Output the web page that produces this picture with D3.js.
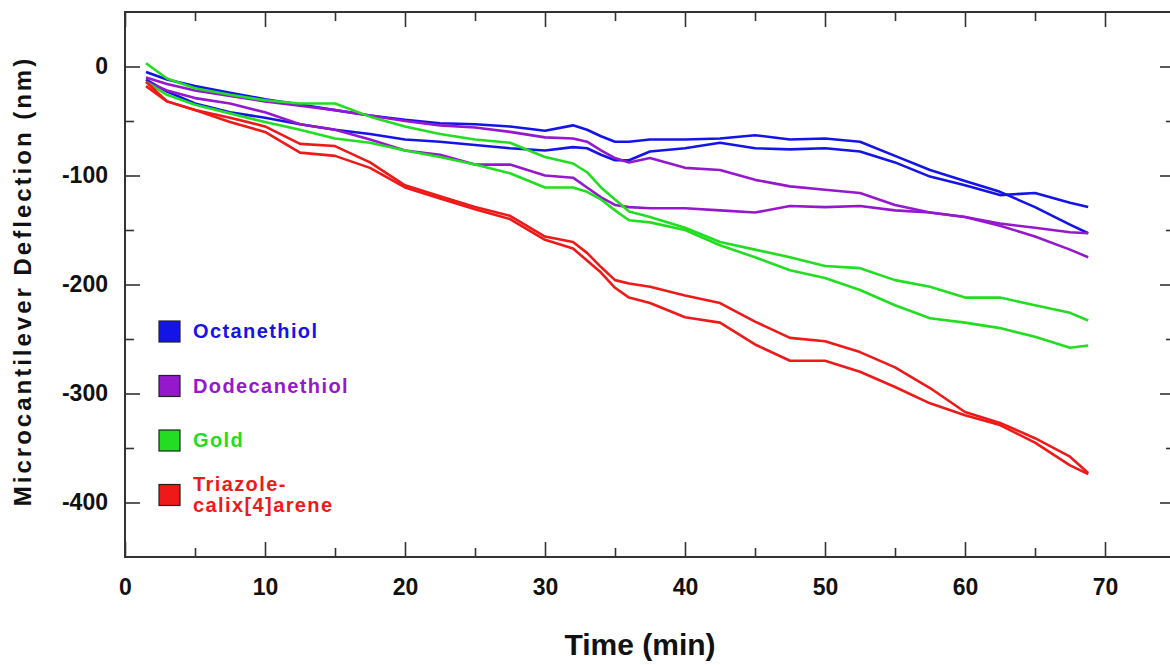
<!DOCTYPE html>
<html>
<head>
<meta charset="utf-8">
<title>Microcantilever Deflection</title>
<script src="https://cdnjs.cloudflare.com/ajax/libs/d3/7.8.5/d3.min.js"></script>
<style>
  body { margin: 0; background: #fff; }
  #chart-area text { font-family: "Liberation Sans", Arial, sans-serif; font-weight: bold; }
</style>
</head>
<body>
<div id="chart-area"></div>
<script>
// time samples (min) shared by every run
var times = [1.5, 3, 5, 7.5, 10, 12.5, 15, 17.5, 20, 22.5, 25, 27.5, 30, 32, 33, 34, 35, 36, 37.5,
  40, 42.5, 45, 47.5, 50, 52.5, 55, 57.5, 60, 62.5, 65, 67.5, 68.8];

// deflection (nm), two runs per coating
var octanethiol1 = [-5, -12, -18, -24, -30, -35, -40, -45, -49, -52, -53, -55, -59, -54, -58, -64, -69, -69, -67,
  -67, -66, -63, -67, -66, -69, -82, -95, -105, -115, -129, -145, -153];
var octanethiol2 = [-12, -23, -34, -42, -47, -53, -58, -62, -67, -69, -72, -75, -77, -74, -75, -81, -86, -86, -78,
  -75, -70, -75, -76, -75, -78, -88, -101, -109, -118, -116, -125, -129];

var dodecanethiol1 = [-10, -16, -22, -27, -32, -36, -40, -45, -50, -54, -56, -60, -65, -66, -69, -77, -84, -88, -84,
  -93, -95, -104, -110, -113, -116, -127, -134, -138, -144, -148, -152, -153];
var dodecanethiol2 = [-14, -22, -29, -34, -42, -53, -58, -67, -77, -81, -90, -90, -100, -102, -111, -120, -127, -129, -130,
  -130, -132, -134, -128, -129, -128, -132, -134, -138, -146, -156, -168, -175];

var gold1 = [3, -11, -20, -26, -31, -34, -34, -46, -55, -62, -67, -70, -83, -89, -97, -111, -122, -133, -138,
  -148, -161, -168, -175, -183, -185, -196, -202, -212, -212, -219, -226, -233];
var gold2 = [-14, -26, -35, -43, -51, -58, -66, -70, -77, -83, -90, -98, -111, -111, -115, -122, -132, -141, -143,
  -150, -164, -175, -187, -194, -205, -219, -231, -235, -240, -248, -258, -256];

var triazole1 = [-14, -32, -40, -47, -55, -71, -73, -88, -109, -119, -129, -137, -156, -161, -171, -184, -196, -199, -202,
  -210, -217, -234, -249, -252, -262, -276, -295, -317, -327, -341, -358, -373];
var triazole2 = [-18, -32, -40, -51, -60, -79, -82, -93, -111, -121, -131, -140, -159, -167, -178, -189, -203, -212, -217,
  -230, -235, -255, -270, -270, -280, -294, -309, -320, -329, -345, -366, -374];

var seriesNames = [["Octanethiol"], ["Dodecanethiol"], ["Gold"], ["Triazole-", "calix[4]arene"]];

var xMajor = [0, 10, 20, 30, 40, 50, 60, 70];
var xMinor = [5, 15, 25, 35, 45, 55, 65];
var yMajor = [0, -100, -200, -300, -400];
var yMinor = [-50, -150, -250, -350];

var colors = ["#1414e6", "#9618cc", "#22dd22", "#ee1a1a"];

var margin = { left: 125, right: -5, top: 12, bottom: 108 };
var width = 1170 - margin.left - margin.right;
var height = 665 - margin.top - margin.bottom;

var series = [
  [octanethiol1, octanethiol2],
  [dodecanethiol1, dodecanethiol2],
  [gold1, gold2],
  [triazole1, triazole2]
].map((runs, i) => ({ name: seriesNames[i], color: colors[i], runs: runs }));

var svg = d3.select('#chart-area')
  .append('svg')
  .attr('width', 1170)
  .attr('height', 665)
  .style('display', 'block');

var g = svg.append('g')
  .attr('transform', `translate(${margin.left}, ${margin.top})`);

var x = d3.scaleLinear()
  .domain([0, 75])
  .range([0, width]);

var y = d3.scaleLinear()
  .domain([-450, 50])
  .range([height, 0]);

// ticks point into the plot on all four sides
function drawAxis(axis, transform, values, size, labels) {
  var a = g.append('g')
    .attr('transform', transform)
    .call(axis.tickValues(values).tickSize(-size).tickPadding(labels ? 17 : 0)
      .tickFormat(labels ? (d => String(d)) : ''));
  a.select('.domain').remove();
  a.selectAll('line').attr('stroke', '#333').attr('stroke-width', 1.6);
  a.selectAll('text').attr('fill', '#111').attr('font-size', '23px');
  return a;
}

var xBottom = drawAxis(d3.axisBottom(x), `translate(0, ${height})`, xMajor, 15, true);
xBottom.selectAll('text').attr('dy', '0.71em').attr('transform', 'translate(0, 5)');
drawAxis(d3.axisBottom(x), `translate(0, ${height})`, xMinor, 9, false);
drawAxis(d3.axisTop(x), 'translate(0, 0)', xMajor, 15, false);
drawAxis(d3.axisTop(x), 'translate(0, 0)', xMinor, 9, false);

drawAxis(d3.axisLeft(y), 'translate(0, 0)', yMajor, 15, true);
drawAxis(d3.axisLeft(y), 'translate(0, 0)', yMinor, 9, false);
drawAxis(d3.axisRight(y), `translate(${width}, 0)`, yMajor, 15, false);
drawAxis(d3.axisRight(y), `translate(${width}, 0)`, yMinor, 9, false);

// frame
g.append('rect')
  .attr('width', width)
  .attr('height', height)
  .attr('fill', 'none')
  .attr('stroke', '#333')
  .attr('stroke-width', 2);

var line = d3.line()
  .x((d, i) => x(times[i]))
  .y(d => y(d));

series.forEach(s => {
  g.selectAll(null)
    .data(s.runs)
    .enter()
    .append('path')
    .attr('d', line)
    .attr('fill', 'none')
    .attr('stroke', s.color)
    .attr('stroke-width', 2.6)
    .attr('stroke-linejoin', 'round');
});

// legend
var legend = g.append('g').attr('transform', 'translate(34, 309)');
var rows = legend.selectAll('g')
  .data(series)
  .enter()
  .append('g')
  .attr('transform', (d, i) => `translate(0, ${i * 54.5})`);

rows.append('rect')
  .attr('width', 21)
  .attr('height', 21)
  .attr('fill', d => d.color)
  .attr('stroke', '#222')
  .attr('stroke-width', 1.2);

rows.append('text')
  .attr('fill', d => d.color)
  .attr('font-size', '20px')
  .attr('letter-spacing', '1.4px')
  .each(function (d) {
    var t = d3.select(this);
    d.name.forEach((part, k) => {
      t.append('tspan')
        .attr('x', 34)
        .attr('y', 17 - (d.name.length - 1) * 10.5 + k * 21)
        .text(part);
    });
  });

// axis titles
svg.append('text')
  .attr('x', 640)
  .attr('y', 655)
  .attr('font-size', '30px')
  .attr('text-anchor', 'middle')
  .attr('fill', '#111')
  .text('Time (min)');

svg.append('text')
  .attr('transform', 'translate(31, 281) rotate(-90)')
  .attr('font-size', '24px')
  .attr('letter-spacing', '3px')
  .attr('text-anchor', 'middle')
  .attr('fill', '#111')
  .text('Microcantilever Deflection (nm)');
</script>
</body>
</html>
